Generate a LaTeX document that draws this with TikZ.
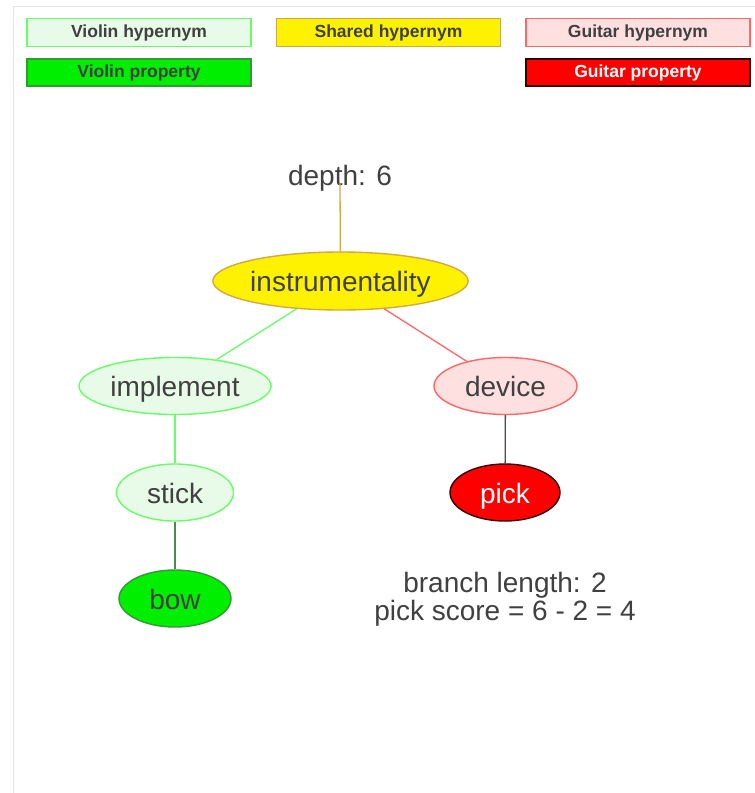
\documentclass[tikz,border=0pt]{standalone}
\usepackage{fontspec}
\setmainfont{Liberation Sans}
\usetikzlibrary{shapes.geometric}
\definecolor{txt}{HTML}{404040}
\definecolor{vfill}{HTML}{E8FAE8}
\definecolor{vline}{HTML}{66FF66}
\definecolor{gfill}{HTML}{FFE0E0}
\definecolor{gline}{HTML}{FF6666}
\definecolor{sline}{HTML}{D4A843}
\definecolor{pgreen}{HTML}{00EE00}
\definecolor{pgreenline}{HTML}{339933}
\definecolor{pred}{HTML}{FF0000}
\definecolor{predline}{HTML}{330000}
\definecolor{frame}{HTML}{E4E4E4}
\definecolor{bowedge}{HTML}{4A8A4A}
\tikzset{
  legbox/.style={draw, line width=1.2pt, minimum width=224pt, minimum height=28pt, inner sep=0pt, text=txt, text height=13pt, text depth=4pt, font=\fontsize{17.5}{19}\selectfont\bfseries},
  tnode/.style={ellipse, draw, line width=1.4pt, inner sep=0pt, minimum height=57pt, text=txt, text height=23pt, text depth=2pt, font=\fontsize{28}{30}\selectfont},
  vhyp/.style={tnode, fill=vfill, draw=vline},
  ghyp/.style={tnode, fill=gfill, draw=gline},
  shyp/.style={tnode, fill=yellow, draw=sline},
  vprop/.style={tnode, fill=pgreen, draw=pgreenline},
  gprop/.style={tnode, fill=pred, draw=predline, text=white},
  edge/.style={line width=1.3pt}
}
\begin{document}
\begin{tikzpicture}[x=1pt, y=-1pt]
\useasboundingbox (0,0) rectangle (755,793);
\fill[white] (0,0) rectangle (755,793);
\draw[frame, line width=1pt] (13,793) -- (13,6) -- (755,6);
% legend
\node[legbox, fill=vfill, draw=vline] (lvh) at (139,32.5) {Violin hypernym};
\node[legbox, fill=yellow, draw=sline] (lsh) at (388.5,32.5) {Shared hypernym};
\node[legbox, fill=gfill, draw=gline] (lgh) at (638,32.5) {Guitar hypernym};
\node[legbox, fill=pgreen, draw=pgreenline, minimum height=27pt] (lvp) at (139,72.5) {Violin property};
\node[legbox, fill=pred, draw=predline, text=white, minimum height=27pt] (lgp) at (638,72.5) {Guitar property};
% tree
\node[text=txt, font=\fontsize{28}{30}\selectfont, text height=23pt, text depth=2pt, inner sep=0pt] (depth) at (340,175) {depth: 6};
\coordinate (dtop) at (340,183);
\node[shyp, minimum width=245pt, minimum height=58pt] (instr) at (340.5,281) {instrumentality};
\node[vhyp, minimum width=192pt] (impl) at (175,386) {implement};
\node[ghyp, minimum width=143pt] (dev) at (505.5,386) {device};
\node[vhyp, minimum width=117pt] (stick) at (175,492.5) {stick};
\node[gprop, minimum width=110pt] (pick) at (505,492.5) {pick};
\node[vprop, minimum width=112pt] (bow) at (175,598.5) {bow};
\node[text=txt, font=\fontsize{28}{30}\selectfont, align=center] (score) at (505,599) {branch length: 2\\[-2pt]pick score = 6 - 2 = 4};
% edges
\draw[edge, sline] (dtop) -- (instr);
\draw[edge, vline] (instr) -- (impl);
\draw[edge, gline] (instr) -- (dev);
\draw[edge, vline] (impl) -- (stick);
\draw[edge, bowedge] (stick) -- (bow);
\draw[edge, black!70] (dev) -- (pick);
\end{tikzpicture}
\end{document}
